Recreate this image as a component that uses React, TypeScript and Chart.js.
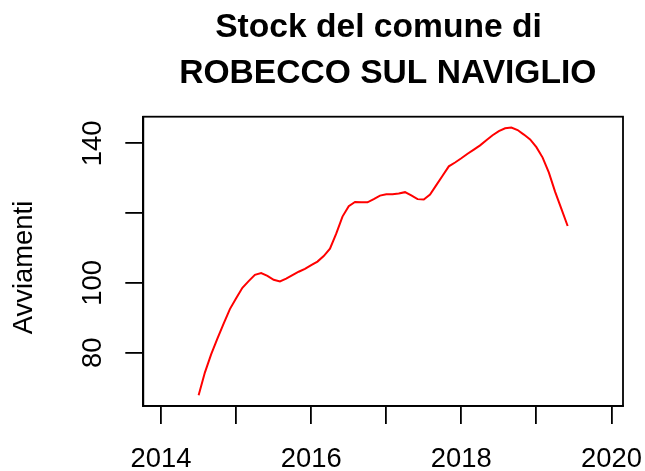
import React, { useEffect, useRef } from "react";
import { Chart, registerables } from "chart.js";

Chart.register(...registerables);

// ---- data ----
const TITLE_LINES = ["Stock del comune di ", " ROBECCO SUL NAVIGLIO"];
const Y_TITLE = "Avviamenti";
const START_YEAR = 2014.5; // July 2014, monthly observations
const STOCK = [
  67.8, 74.3, 79.5, 84.0, 88.3, 92.5, 95.6, 98.6, 100.5, 102.3, 102.8, 102.0,
  100.9, 100.4, 101.2, 102.2, 103.2, 104.0, 105.1, 106.1, 107.7, 109.8, 114.1, 119.0,
  122.0, 123.2, 123.1, 123.1, 124.0, 125.0, 125.4, 125.4, 125.6, 126.0, 125.1, 124.0,
  123.9, 125.3, 128.0, 130.7, 133.4, 134.5, 135.7, 137.0, 138.2, 139.4, 140.9, 142.3,
  143.5, 144.3, 144.5, 143.8, 142.5, 141.1, 138.9, 135.9, 131.6, 126.1, 121.2, 116.3,
];
const X_TICKS = [2014, 2015, 2016, 2017, 2018, 2019, 2020];
const X_LABELS = ["2014", "", "2016", "", "2018", "", "2020"];
const Y_TICKS = [80, 100, 120, 140];
const Y_LABELS = ["80", "100", "", "140"];

const FONT = '"Liberation Sans", Arial, Helvetica, sans-serif';

const rBasePlugin = {
  id: "rBase",
  afterDraw(chart: any) {
    const { ctx, chartArea } = chart;
    const { left, top, right, bottom } = chartArea;
    const xs = chart.scales.x;
    const ys = chart.scales.y;
    ctx.save();
    // box
    ctx.strokeStyle = "#000";
    ctx.lineWidth = 1.8;
    ctx.strokeRect(left, top, right - left, bottom - top);

    ctx.fillStyle = "#000";
    // x tick labels
    ctx.font = `27.4px ${FONT}`;
    ctx.textAlign = "center";
    ctx.textBaseline = "alphabetic";
    X_TICKS.forEach((v, i) => {
      if (!X_LABELS[i]) return;
      ctx.fillText(X_LABELS[i], xs.getPixelForValue(v), 466.5);
    });
    // y tick labels (rotated)
    Y_TICKS.forEach((v, i) => {
      if (!Y_LABELS[i]) return;
      const py = ys.getPixelForValue(v);
      ctx.save();
      ctx.translate(101, py);
      ctx.rotate(-Math.PI / 2);
      ctx.fillText(Y_LABELS[i], 0, 0);
      ctx.restore();
    });
    // y title
    ctx.save();
    ctx.translate(32.3, 267.5);
    ctx.rotate(-Math.PI / 2);
    ctx.fillText(Y_TITLE, 0, 0);
    ctx.restore();
    // main title
    ctx.font = `bold 33.6px ${FONT}`;
    const cx = (left + right) / 2;
    ctx.fillText(TITLE_LINES[0], cx, 36.5);
    ctx.fillText(TITLE_LINES[1], cx, 83);
    ctx.restore();
  },
};

export default function App() {
  const ref = useRef<HTMLCanvasElement | null>(null);
  useEffect(() => {
    if (!ref.current) return;
    const chart = new Chart(ref.current, {
      type: "line",
      data: {
        datasets: [
          {
            data: STOCK.map((v, i) => ({ x: START_YEAR + i / 12, y: v })),
            borderColor: "#FF0000",
            borderWidth: 2,
            pointRadius: 0,
            tension: 0,
            fill: false,
          },
        ],
      },
      options: {
        animation: false,
        responsive: false,
        devicePixelRatio: 1,
        layout: { padding: { left: 0, top: 116.7, right: 22, bottom: 0 } },
        plugins: {
          legend: { display: false },
          tooltip: { enabled: false },
          title: { display: false },
        },
        scales: {
          x: {
            type: "linear",
            position: "bottom",
            min: 2013.763,
            max: 2020.154,
            afterBuildTicks: (s: any) => {
              s.ticks = X_TICKS.map((v) => ({ value: v }));
            },
            afterFit: (s: any) => {
              s.height = 65;
            },
            grid: {
              drawOnChartArea: false,
              drawTicks: true,
              tickLength: 18,
              color: "#000",
              lineWidth: 1.8,
            },
            border: { display: true, color: "#000", width: 1.8 },
            ticks: { display: false },
          },
          y: {
            type: "linear",
            position: "left",
            min: 64.73,
            max: 147.62,
            afterBuildTicks: (s: any) => {
              s.ticks = Y_TICKS.map((v) => ({ value: v }));
            },
            afterFit: (s: any) => {
              s.width = 143.3;
            },
            grid: {
              drawOnChartArea: false,
              drawTicks: true,
              tickLength: 18,
              color: "#000",
              lineWidth: 1.8,
            },
            border: { display: true, color: "#000", width: 1.8 },
            ticks: { display: false },
          },
        },
      },
      plugins: [rBasePlugin],
    });
    return () => chart.destroy();
  }, []);
  return (
    <div style={{ position: "absolute", left: 0, top: 0, width: 645, height: 471, background: "#fff" }}>
      <canvas ref={ref} width={645} height={471} style={{ display: "block" }} />
    </div>
  );
}
